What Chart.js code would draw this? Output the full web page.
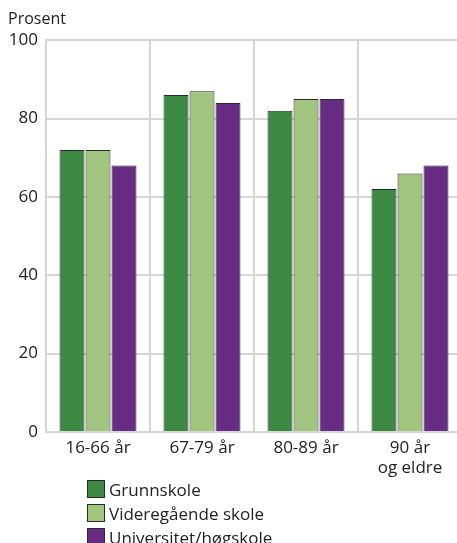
<!DOCTYPE html>
<html lang="no">
<head>
<meta charset="utf-8">
<title>Prosent etter alder og utdanning</title>
<script src="https://cdn.jsdelivr.net/npm/chart.js@4/dist/chart.umd.min.js"></script>
<style>
  html, body { margin: 0; padding: 0; background: #fff; overflow: hidden; }
  #wrap { position: relative; width: 462px; height: 543px; }
  #legend { position: absolute; left: 87px; top: 477px; margin: 0; padding: 0; list-style: none;
            font-family: "Open Sans", sans-serif; font-size: 17px; color: #222; }
  #legend li { display: flex; align-items: center; height: 24px; white-space: nowrap; }
  #legend .box { width: 18px; height: 18px; box-sizing: border-box; border: 1px solid #2a2a2a; margin-right: 4px; }
</style>
</head>
<body>
<div id="wrap">
  <canvas id="chart"></canvas>
  <ul id="legend"></ul>
</div>
<script>
// Age groups along the x axis
const categories = ['16-66 år', '67-79 år', '80-89 år', ['90 år', 'og eldre']];

// Share (per cent) for each education level
const grunnskole = [72, 86, 82, 62];
const videregaende = [72, 87, 85, 66];
const universitet = [68, 84, 85, 68];

const seriesNames = ['Grunnskole', 'Videregående skole', 'Universitet/høgskole'];
const seriesColors = ['#3b8942', '#a1c57f', '#692c85'];

const yTicks = [0, 20, 40, 60, 80, 100];

const gridColor = '#d6d6d6';
const textColor = '#222';
const fontFamily = '"Open Sans", sans-serif';

// Builds the list below the plot from the chart's own legend items
const htmlLegend = {
  id: 'htmlLegend',
  afterUpdate(chart) {
    const ul = document.getElementById('legend');
    ul.innerHTML = '';
    const items = chart.options.plugins.legend.labels.generateLabels(chart);
    items.forEach(item => {
      const li = document.createElement('li');
      const box = document.createElement('span');
      box.className = 'box';
      box.style.background = item.fillStyle;
      const txt = document.createElement('span');
      txt.textContent = item.text;
      li.appendChild(box);
      li.appendChild(txt);
      ul.appendChild(li);
    });
  }
};

const datasets = [grunnskole, videregaende, universitet].map((values, i) => ({
  label: seriesNames[i],
  data: values,
  backgroundColor: seriesColors[i],
  borderColor: '#2a2a2a',
  borderWidth: 1,
  categoryPercentage: 0.75,
  barPercentage: 0.96
}));

new Chart(document.getElementById('chart'), {
  type: 'bar',
  data: { labels: categories, datasets },
  plugins: [htmlLegend],
  options: {
    responsive: true,
    maintainAspectRatio: false,
    animation: false,
    devicePixelRatio: 1,
    layout: { padding: { left: 8, right: 0, top: 0, bottom: 0 } },
    plugins: {
      legend: { display: false },
      tooltip: { enabled: false },
      title: {
        display: true,
        text: 'Prosent',
        align: 'start',
        color: textColor,
        font: { family: fontFamily, size: 16, weight: 'normal' },
        padding: { top: 10, bottom: 11 }
      }
    },
    scales: {
      x: {
        grid: { display: true, offset: true, color: gridColor, lineWidth: 2, drawTicks: false },
        border: { display: true, color: gridColor, width: 2 },
        ticks: { color: textColor, font: { family: fontFamily, size: 17, lineHeight: 1.2 }, padding: 6, maxRotation: 0 },
        afterFit(scale) { scale.height = 111; }
      },
      y: {
        min: 0,
        max: 100,
        afterBuildTicks(scale) { scale.ticks = yTicks.map(v => ({ value: v })); },
        grid: { color: gridColor, lineWidth: 2, drawTicks: false },
        border: { display: true, color: gridColor, width: 2 },
        ticks: { color: textColor, font: { family: fontFamily, size: 17 }, padding: 8 },
        afterFit(scale) { scale.width = 38; }
      }
    }
  }
});
</script>
</body>
</html>
